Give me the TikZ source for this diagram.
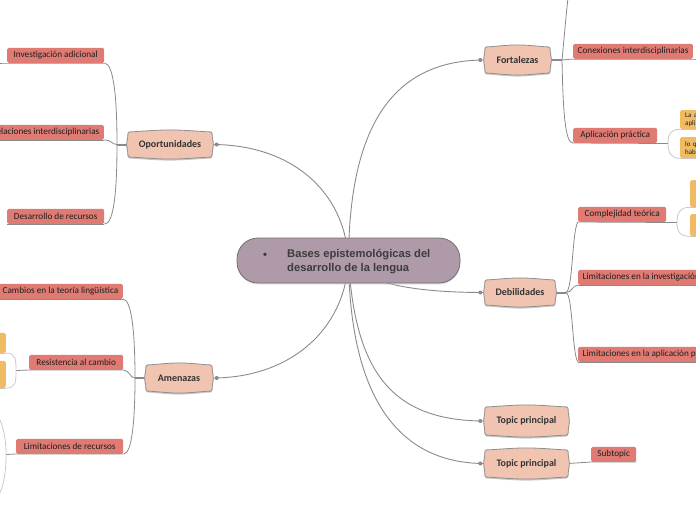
\documentclass[tikz,border=0pt]{standalone}
\usepackage{fontspec}
\newfontfamily\calfont{Carlito}
\newfontfamily\arfont{Liberation Sans}
\usetikzlibrary{shadows}
\definecolor{cfill}{HTML}{AE9AA8}
\definecolor{cdraw}{HTML}{707070}
\definecolor{ctext}{HTML}{3C3C3C}
\definecolor{tfill}{HTML}{F0C4B0}
\definecolor{tdraw}{HTML}{8E8E8E}
\definecolor{ttext}{HTML}{333333}
\definecolor{sfill}{HTML}{E07B74}
\definecolor{stext}{HTML}{1E1E1E}
\definecolor{ofill}{HTML}{F0BB63}
\definecolor{lgray}{HTML}{8A8A8A}
\definecolor{pgray}{HTML}{C9C9C9}
\definecolor{shad}{HTML}{C8C8C8}
\pgfdeclarelayer{bg}\pgfdeclarelayer{mid}\pgfsetlayers{bg,mid,main}
\newcommand{\barrel}[2]{%
\path[#2] ([xshift=5pt]#1.north west) .. controls ([yshift=2.5pt]#1.north) .. ([xshift=-5pt]#1.north east)
 .. controls (#1.north east) .. ([yshift=-5pt]#1.north east)
 .. controls ([xshift=1.5pt]#1.east) .. ([yshift=5pt]#1.south east)
 .. controls (#1.south east) .. ([xshift=-5pt]#1.south east)
 .. controls ([yshift=-2.5pt]#1.south) .. ([xshift=5pt]#1.south west)
 .. controls (#1.south west) .. ([yshift=5pt]#1.south west)
 .. controls ([xshift=-1.5pt]#1.west) .. ([yshift=-5pt]#1.north west)
 .. controls (#1.north west) .. cycle;}
\tikzset{
 central/.style={fill=cfill, draw=cdraw, line width=0.8pt, rounded corners=21pt, minimum width=223pt, minimum height=45pt, inner sep=0pt, drop shadow={shadow xshift=0pt, shadow yshift=-1.5pt, fill=shad}},
 ctxt/.style={font=\arfont\bfseries\fontsize{11.2}{14}\selectfont, text=ctext, align=left, inner sep=0pt},
 topic/.style={font=\calfont\bfseries\fontsize{10}{12}\selectfont, text=ttext, inner sep=0pt},
 sub/.style={fill=sfill, rounded corners=1.5pt, font=\calfont\fontsize{9.2}{11}\selectfont, text=stext, minimum height=15pt, inner ysep=0pt, inner xsep=4.5pt},
 orng/.style={fill=ofill, rounded corners=1.5pt, font=\calfont\fontsize{7}{8}\selectfont, text=stext, align=left, inner xsep=3pt, inner ysep=0pt},
 conn/.style={draw=lgray, line width=0.9pt},
 stem/.style={draw=lgray, line width=2pt},
 brk/.style={draw=lgray, line width=0.8pt},
 obrk/.style={draw=pgray, line width=0.8pt},
 dot/.style={fill=lgray},
}
\begin{document}
\begin{tikzpicture}[x=1pt,y=-1pt]
\useasboundingbox (0,0) rectangle (696,520);
\clip (0,0) rectangle (696,520);
% central
\node[central] (c) at (348.5,260.5) {};
\node[ctxt, anchor=west] (ct) at (287,262) {Bases epistemológicas del\\desarrollo de la lengua};
\node[ctxt, anchor=base] (cbul) at (265,258) {•};
% topics
\node[topic, minimum width=65pt, minimum height=26pt] (fo) at (517.5,60) {Fortalezas};
\node[topic, minimum width=84pt, minimum height=25pt] (op) at (170,144.5) {Oportunidades};
\node[topic, minimum width=70pt, minimum height=25pt] (de) at (520,292.5) {Debilidades};
\node[topic, minimum width=66pt, minimum height=26pt] (am) at (179,378) {Amenazas};
\node[topic, minimum width=83pt, minimum height=28pt] (tp1) at (526.5,421) {Topic principal};
\node[topic, minimum width=83pt, minimum height=27pt] (tp2) at (526.5,463.5) {Topic principal};
% subtopics
\node[sub, anchor=south west, minimum width=97pt] (s11) at (7,63) {Investigación adicional};
\node[sub, anchor=south east] (s12) at (104,140) {Relaciones interdisciplinarias};
\node[sub, anchor=south west, minimum width=97pt] (s13) at (7,224) {Desarrollo de recursos};
\node[sub, anchor=south east] (s21) at (123,299) {Cambios en la teoría lingüística};
\node[sub, anchor=south west, minimum width=94pt] (s22) at (29,370) {Resistencia al cambio};
\node[sub, anchor=south west, minimum width=107pt] (s23) at (16,454) {Limitaciones de recursos};
\node[sub, anchor=south west, minimum width=119pt] (s31) at (573,59) {Conexiones interdisciplinarias};
\node[sub, anchor=south west, minimum width=84pt] (s32) at (573,143) {Aplicación práctica};
\node[sub, anchor=south west, minimum width=88pt] (s41) at (578,222) {Complejidad teórica};
\node[sub, anchor=south west] (s42) at (578,285) {Limitaciones en la investigación};
\node[sub, anchor=south west] (s43) at (578,362) {Limitaciones en la aplicación práctica};
\node[sub, anchor=south west, minimum width=45pt] (s51) at (591,462) {Subtopic};
% orange leaves
\node[orng, anchor=north west, minimum width=40pt, minimum height=19pt, text width=30pt] (o1) at (680,110) {La a\\apli};
\node[orng, anchor=north west, minimum width=40pt, minimum height=21pt, text width=30pt] (o2) at (680,137) {lo q\\hab};
\node[orng, anchor=north west, minimum width=30pt, minimum height=27pt] (o3) at (690,180) {};
\node[orng, anchor=north west, minimum width=30pt, minimum height=22pt] (o4) at (690,214) {};
\node[orng, anchor=south east, minimum width=30pt, minimum height=20pt] (lo1) at (6,353) {};
\node[orng, anchor=south east, minimum width=30pt, minimum height=27pt] (lo2) at (6,388) {};
% helper coordinates
\coordinate (ob) at (117,144.5);
\coordinate (ab) at (135,378);
\coordinate (fb) at (562,60);
\coordinate (fu) at (568,-2);
\coordinate (db) at (566,292.5);
\coordinate (apb) at (668,143.5);
\coordinate (cpb) at (677,222.5);
\coordinate (rb) at (16,370.5);
\coordinate (lb) at (6,454.5);
\coordinate (lu) at (-1,418);
\coordinate (ld) at (-1,495);
\begin{pgfonlayer}{mid}
 \begin{scope}[transform canvas={yshift=-1.5pt}]
 \barrel{fo}{fill=shad}\barrel{op}{fill=shad}\barrel{de}{fill=shad}
 \barrel{am}{fill=shad}\barrel{tp1}{fill=shad}\barrel{tp2}{fill=shad}
 \end{scope}
 \barrel{fo}{fill=tfill, draw=tdraw, line width=0.8pt}
 \barrel{op}{fill=tfill, draw=tdraw, line width=0.8pt}
 \barrel{de}{fill=tfill, draw=tdraw, line width=0.8pt}
 \barrel{am}{fill=tfill, draw=tdraw, line width=0.8pt}
 \barrel{tp1}{fill=tfill, draw=tdraw, line width=0.8pt}
 \barrel{tp2}{fill=tfill, draw=tdraw, line width=0.8pt}
\end{pgfonlayer}
\begin{pgfonlayer}{bg}
 % main connectors
 \draw[conn] (c.center) .. controls (349,130) and (390,60) .. (fo.west);
 \draw[conn] (c.center) .. controls (345,190) and (290,144.5) .. (op.east);
 \draw[conn] (c.center) .. controls (365,285) and (420,292.5) .. (de.west);
 \draw[conn] (c.center) .. controls (345,330) and (290,378) .. (am.east);
 \draw[conn] (c.center) .. controls (355,370) and (390,421) .. (tp1.west);
 \draw[conn] (c.center) .. controls (350,400) and (400,463.5) .. (tp2.west);
 \fill[dot] ([xshift=-4.5pt]fo.west) circle (2pt);
 \fill[dot] ([xshift=4.5pt]op.east) circle (2pt);
 \fill[dot] ([xshift=-4.5pt]de.west) circle (2pt);
 \fill[dot] ([xshift=4.5pt]am.east) circle (2pt);
 \fill[dot] ([xshift=-4.5pt]tp1.west) circle (2pt);
 \fill[dot] ([xshift=-4.5pt]tp2.west) circle (2pt);
 % Oportunidades
 \draw[stem] (op.west) -- (ob);
 \draw[brk] (ob) .. controls (117,100) and (114,63.5) .. (s11.south east);
 \draw[brk] (ob) .. controls (112,144.5) and (112,140) .. (s12.south east);
 \draw[brk] (ob) .. controls (117,190) and (114,224.5) .. (s13.south east);
 \draw[brk] (s11.south east) -- (s11.south west) -- ++(-10,0);
 \draw[brk] (s12.south east) -- (s12.south west);
 \draw[brk] (s13.south east) -- (s13.south west);
 % Amenazas
 \draw[stem] (am.west) -- (ab);
 \draw[brk] (ab) .. controls (135,335) and (132,299.5) .. (s21.south east);
 \draw[brk] (ab) .. controls (130,378) and (130,370.5) .. (s22.south east);
 \draw[brk] (ab) .. controls (135,420) and (132,454.5) .. (s23.south east);
 \draw[brk] (s21.south east) -- (s21.south west);
 \draw[brk] (s22.south east) -- (s22.south west) -- (rb);
 \draw[brk] (s23.south east) -- (s23.south west) -- (lb);
 \draw[obrk] (lo1.south east) .. controls (16,353) and (16,360) .. (rb) .. controls (16,382) and (16,388) .. (lo2.south east);
 \draw[obrk] (lo1.south east) -- (lo1.south west);
 \draw[obrk] (lo2.south east) -- (lo2.south west);
 \draw[obrk] (lu) .. controls (5,430) and (6,444) .. (lb) .. controls (6,468) and (5,482) .. (ld);
 % Fortalezas
 \draw[stem] (fo.east) -- (fb);
 \draw[brk] (fb) .. controls (564,40) and (566,15) .. (fu);
 \draw[brk] (fb) -- (s31.south west);
 \draw[brk] (fb) .. controls (563,110) and (565,143.5) .. (s32.south west);
 \draw[brk] (s31.south west) -- (s31.south east) -- ++(10,0);
 \draw[brk] (s32.south west) -- (apb);
 \draw[obrk] (apb) .. controls (668,134) and (671,129) .. (o1.south west);
 \draw[obrk] (apb) .. controls (668,153) and (671,158) .. (o2.south west);
 \draw[obrk] (o1.south west) -- (o1.south east);
 \draw[obrk] (o2.south west) -- (o2.south east);
 % Debilidades
 \draw[stem] (de.east) -- (db);
 \draw[brk] (db) .. controls (573,290) and (572,230) .. (s41.south west);
 \draw[brk] (db) .. controls (572,292.5) and (572,285.5) .. (s42.south west);
 \draw[brk] (db) .. controls (573,295) and (572,355) .. (s43.south west);
 \draw[brk] (s41.south west) -- (cpb);
 \draw[brk] (s42.south west) -- (s42.south east);
 \draw[brk] (s43.south west) -- (s43.south east);
 \draw[obrk] (cpb) .. controls (677,213) and (680,207) .. (o3.south west);
 \draw[obrk] (cpb) .. controls (677,232) and (680,236) .. (o4.south west);
 \draw[obrk] (o3.south west) -- (o3.south east);
 \draw[obrk] (o4.south west) -- (o4.south east);
 % Topic principal -> Subtopic
 \draw[brk] (tp2.east) -- (s51.south west) -- (s51.south east);
\end{pgfonlayer}
\end{tikzpicture}
\end{document}
